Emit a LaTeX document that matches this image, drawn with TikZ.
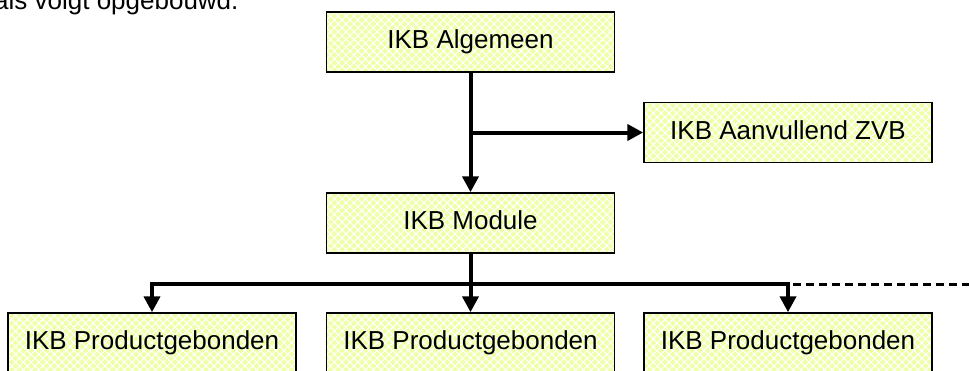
\documentclass[tikz,border=0pt]{standalone}
\usepackage{fontspec}
\setmainfont{Liberation Sans}
\usetikzlibrary{arrows.meta,patterns.meta}
\definecolor{ylw}{RGB}{238,255,165}
\tikzset{
  box/.style={draw=black, line width=1.5pt,
    preaction={fill=ylw},
    preaction={pattern={Lines[angle=45,distance=5.5pt,line width=1.1pt]}, pattern color=white},
    preaction={pattern={Lines[angle=-45,distance=5.5pt,line width=1.1pt]}, pattern color=white},
    minimum width=288pt, minimum height=60pt, inner sep=0pt,
    text height=13.5pt, text depth=0pt,
    font=\fontsize{26}{30}\selectfont},
  conn/.style={line width=4pt, draw=black},
  arr/.style={conn, -{Triangle[width=16pt,length=16pt]}},
  dashedconn/.style={line width=3pt, draw=black, dash pattern=on 8pt off 5pt}
}
\begin{document}
\begin{tikzpicture}[x=1pt,y=-1pt]
\useasboundingbox (0,0) rectangle (969,370);
\clip (0,0) rectangle (969,370);
\node[anchor=base west, font=\fontsize{26}{30}\selectfont, inner sep=0pt] (intro) at (-6,9.5) {als volgt opgebouwd.};
\node[box] (alg) at (470.5,42) {IKB Algemeen};
\node[box] (zvb) at (788,132.5) {IKB Aanvullend ZVB};
\node[box] (mod) at (470.5,223) {IKB Module};
\node[box] (p1) at (152,343) {IKB Productgebonden};
\node[box] (p2) at (470.5,343) {IKB Productgebonden};
\node[box] (p3) at (788,343) {IKB Productgebonden};
\coordinate (bus) at (470.5,284);
\coordinate (dashend) at (975,284);
\draw[arr] (alg.south) -- (mod.north);
\draw[arr] (alg.south |- zvb.west) -- (zvb.west);
\draw[arr] (mod.south) -- (p2.north);
\draw[arr] (bus) -| (p1.north);
\draw[arr] (bus) -| (p3.north);
\draw[dashedconn] (p3.north |- bus) ++(5,0) -- (dashend);
\end{tikzpicture}
\end{document}
